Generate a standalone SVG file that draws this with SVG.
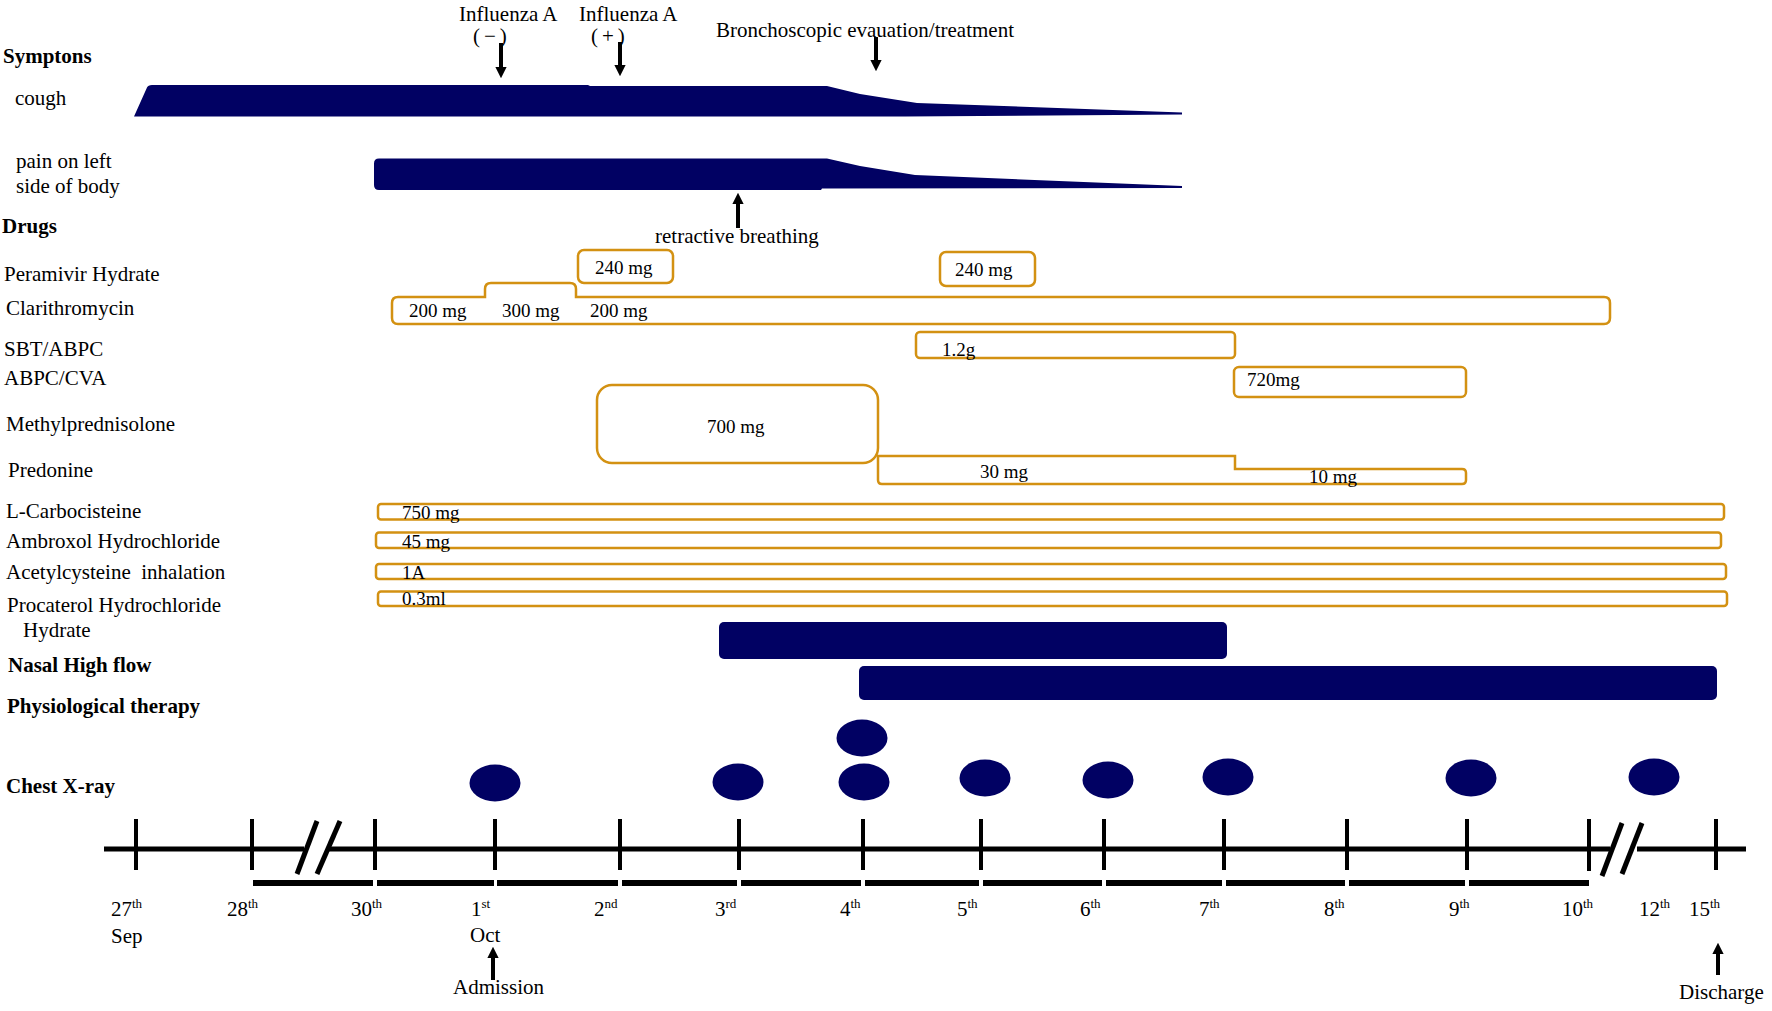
<svg xmlns="http://www.w3.org/2000/svg" width="1772" height="1011" viewBox="0 0 1772 1011">
<style>
text{font-family:"Liberation Serif","Times New Roman",serif;fill:#000;font-size:21px}
.b{font-weight:bold}
.bx{font-size:19px}
.sup{font-size:13px}
.drug{fill:none;stroke:#D39112;stroke-width:2.5}
.navy{fill:#010163}
.ax{stroke:#000;stroke-width:5;fill:none}
.tk{stroke:#000;stroke-width:4}
.arr{stroke:#000;stroke-width:4;fill:none;marker-end:url(#ah)}
</style>
<defs>
<marker id="ah" viewBox="0 0 10 10" refX="0" refY="5" markerWidth="2.8" markerHeight="3" orient="auto" markerUnits="strokeWidth">
<path d="M0,0 L10,5 L0,10 z" fill="#000"/>
</marker>
</defs>
<rect width="1772" height="1011" fill="#fff"/>

<g id="labels">
<text class="b" x="3" y="63">Symptons</text>
<text x="15" y="105">cough</text>
<text x="16" y="168">pain on left</text>
<text x="16" y="193">side of body</text>
<text class="b" x="2" y="233">Drugs</text>
<text x="4" y="281">Peramivir Hydrate</text>
<text x="6" y="315">Clarithromycin</text>
<text x="4" y="356">SBT/ABPC</text>
<text x="4" y="385">ABPC/CVA</text>
<text x="6" y="431">Methylprednisolone</text>
<text x="8" y="477">Predonine</text>
<text x="6" y="518">L-Carbocisteine</text>
<text x="6" y="548">Ambroxol Hydrochloride</text>
<text x="6" y="579" xml:space="preserve">Acetylcysteine  inhalation</text>
<text x="7" y="612">Procaterol Hydrochloride</text>
<text x="23" y="637">Hydrate</text>
<text class="b" x="8" y="672">Nasal High flow</text>
<text class="b" x="7" y="713">Physiological therapy</text>
<text class="b" x="6" y="793">Chest X-ray</text>
</g>

<g id="annotations">
<text x="459" y="21">Influenza A</text>
<text x="473" y="43" letter-spacing="4">(−)</text>
<text x="579" y="21">Influenza A</text>
<text x="591" y="43" letter-spacing="4">(+)</text>
<text x="716" y="37" font-size="20">Bronchoscopic evauation/treatment</text>
<text x="655" y="243">retractive breathing</text>
<text x="453" y="994">Admission</text>
<text x="1679" y="999">Discharge</text>
</g>

<g id="cough">
<path class="navy" d="M134,116.5 L147,87.5 Q148,85 152,85 L588,85 L590,86 L827,86 L860,94 L917,103 L1182,112.5 L1182,114.5 L905,116.5 Z"/>
</g>
<g id="pain">
<path class="navy" d="M379,158.5 L827,158.5 L860,166 L915,175 L1182,186 L1182,188 L822,188.5 L821,190 L379,190 Q374,190 374,185 L374,163.5 Q374,158.5 379,158.5 Z"/>
</g>

<g id="peramivir">
<rect class="drug" x="578" y="250" width="95" height="33" rx="6"/>
<text class="bx" x="595" y="274">240 mg</text>
<rect class="drug" x="940" y="252" width="95" height="34" rx="6"/>
<text class="bx" x="955" y="276">240 mg</text>
</g>

<g id="clarithromycin">
<path class="drug" d="M485,297 L485,289 Q485,283 491,283 L570,283 Q576,283 576,289 L576,297 L1604,297 Q1610,297 1610,303 L1610,318 Q1610,324 1604,324 L398,324 Q392,324 392,318 L392,303 Q392,297 398,297 Z"/>
<text class="bx" x="409" y="317">200 mg</text>
<text class="bx" x="502" y="317">300 mg</text>
<text class="bx" x="590" y="317">200 mg</text>
</g>

<g id="sbt-abpc">
<rect class="drug" x="916" y="332" width="319" height="26" rx="4"/>
<text class="bx" x="942" y="356">1.2g</text>
</g>

<g id="abpc-cva">
<rect class="drug" x="1234" y="367" width="232" height="30" rx="5"/>
<text class="bx" x="1247" y="386">720mg</text>
</g>

<g id="methylprednisolone">
<rect class="drug" x="597" y="385" width="281" height="78" rx="15"/>
<text class="bx" x="707" y="433">700 mg</text>
</g>

<g id="predonine">
<path class="drug" d="M878,456 L1235,456 L1235,469 L1462,469 Q1466,469 1466,473 L1466,480 Q1466,484 1462,484 L882,484 Q878,484 878,480 Z"/>
<text class="bx" x="980" y="478">30 mg</text>
<text class="bx" x="1309" y="483">10 mg</text>
</g>

<g id="l-carbocisteine">
<rect class="drug" x="378" y="504" width="1346" height="15.5" rx="3"/>
<text class="bx" x="402" y="519">750 mg</text>
</g>
<g id="ambroxol">
<rect class="drug" x="376" y="532.5" width="1345" height="15.5" rx="3"/>
<text class="bx" x="402" y="548">45 mg</text>
</g>
<g id="acetylcysteine">
<rect class="drug" x="376" y="564" width="1350" height="15" rx="3"/>
<text class="bx" x="402" y="579">1A</text>
</g>
<g id="procaterol">
<rect class="drug" x="378" y="591.5" width="1349" height="14.5" rx="3"/>
<text class="bx" x="402" y="605">0.3ml</text>
</g>

<g id="nasal-high-flow">
<rect class="navy" x="719" y="622" width="508" height="37" rx="5"/>
</g>
<g id="physiological-therapy">
<rect class="navy" x="859" y="666" width="858" height="34" rx="5"/>
</g>

<g id="chest-xray">
<ellipse class="navy" cx="495" cy="783" rx="25.5" ry="18.5"/>
<ellipse class="navy" cx="738" cy="782" rx="25.5" ry="18.5"/>
<ellipse class="navy" cx="864" cy="782" rx="25.5" ry="18.5"/>
<ellipse class="navy" cx="862" cy="738" rx="25.5" ry="18.5"/>
<ellipse class="navy" cx="985" cy="778" rx="25.5" ry="18.5"/>
<ellipse class="navy" cx="1108" cy="780" rx="25.5" ry="18.5"/>
<ellipse class="navy" cx="1228" cy="777" rx="25.5" ry="18.5"/>
<ellipse class="navy" cx="1471" cy="778" rx="25.5" ry="18.5"/>
<ellipse class="navy" cx="1654" cy="777" rx="25.5" ry="18.5"/>
</g>

<g id="timeline">
<line class="ax" x1="104" y1="849" x2="304" y2="849" stroke-width="6"/>
<line class="ax" x1="327" y1="849" x2="1610" y2="849" stroke-width="6"/>
<line class="ax" x1="1637" y1="849" x2="1746" y2="849" stroke-width="6"/>
<line class="ax" x1="297" y1="874" x2="317" y2="821"/>
<line class="ax" x1="317" y1="874" x2="340" y2="821"/>
<line class="ax" x1="1602" y1="876" x2="1622" y2="823"/>
<line class="ax" x1="1622" y1="874" x2="1642" y2="823"/>
<g class="tk">
<line x1="136" y1="819" x2="136" y2="870"/>
<line x1="252" y1="819" x2="252" y2="870"/>
<line x1="375" y1="819" x2="375" y2="870"/>
<line x1="495" y1="819" x2="495" y2="870"/>
<line x1="620" y1="819" x2="620" y2="870"/>
<line x1="739" y1="819" x2="739" y2="870"/>
<line x1="863" y1="819" x2="863" y2="870"/>
<line x1="981" y1="819" x2="981" y2="870"/>
<line x1="1104" y1="819" x2="1104" y2="870"/>
<line x1="1224" y1="819" x2="1224" y2="870"/>
<line x1="1347" y1="819" x2="1347" y2="870"/>
<line x1="1467" y1="819" x2="1467" y2="870"/>
<line x1="1589" y1="819" x2="1589" y2="871"/>
<line x1="1716" y1="819" x2="1716" y2="870"/>
</g>
<g stroke="#000" stroke-width="6">
<line x1="253" y1="883" x2="373" y2="883"/>
<line x1="377" y1="883" x2="494" y2="883"/>
<line x1="497" y1="883" x2="618" y2="883"/>
<line x1="622" y1="883" x2="737" y2="883"/>
<line x1="741" y1="883" x2="861" y2="883"/>
<line x1="865" y1="883" x2="979" y2="883"/>
<line x1="983" y1="883" x2="1102" y2="883"/>
<line x1="1106" y1="883" x2="1222" y2="883"/>
<line x1="1226" y1="883" x2="1345" y2="883"/>
<line x1="1349" y1="883" x2="1465" y2="883"/>
<line x1="1469" y1="883" x2="1589" y2="883"/>
</g>
<text x="111" y="916">27<tspan class="sup" dy="-8">th</tspan></text>
<text x="111" y="943">Sep</text>
<text x="227" y="916">28<tspan class="sup" dy="-8">th</tspan></text>
<text x="351" y="916">30<tspan class="sup" dy="-8">th</tspan></text>
<text x="471" y="916">1<tspan class="sup" dy="-8">st</tspan></text>
<text x="470" y="942">Oct</text>
<text x="594" y="916">2<tspan class="sup" dy="-8">nd</tspan></text>
<text x="715" y="916">3<tspan class="sup" dy="-8">rd</tspan></text>
<text x="840" y="916">4<tspan class="sup" dy="-8">th</tspan></text>
<text x="957" y="916">5<tspan class="sup" dy="-8">th</tspan></text>
<text x="1080" y="916">6<tspan class="sup" dy="-8">th</tspan></text>
<text x="1199" y="916">7<tspan class="sup" dy="-8">th</tspan></text>
<text x="1324" y="916">8<tspan class="sup" dy="-8">th</tspan></text>
<text x="1449" y="916">9<tspan class="sup" dy="-8">th</tspan></text>
<text x="1562" y="916">10<tspan class="sup" dy="-8">th</tspan></text>
<text x="1639" y="916">12<tspan class="sup" dy="-8">th</tspan></text>
<text x="1689" y="916">15<tspan class="sup" dy="-8">th</tspan></text>
</g>

<g id="connectors">
<line class="arr" x1="501" y1="43" x2="501" y2="67"/>
<line class="arr" x1="620" y1="42" x2="620" y2="65"/>
<line class="arr" x1="876" y1="37" x2="876" y2="60"/>
<line class="arr" x1="738" y1="228" x2="738" y2="204"/>
<line class="arr" x1="493" y1="980" x2="493" y2="958"/>
<line class="arr" x1="1718" y1="975" x2="1718" y2="954"/>
</g>
</svg>
